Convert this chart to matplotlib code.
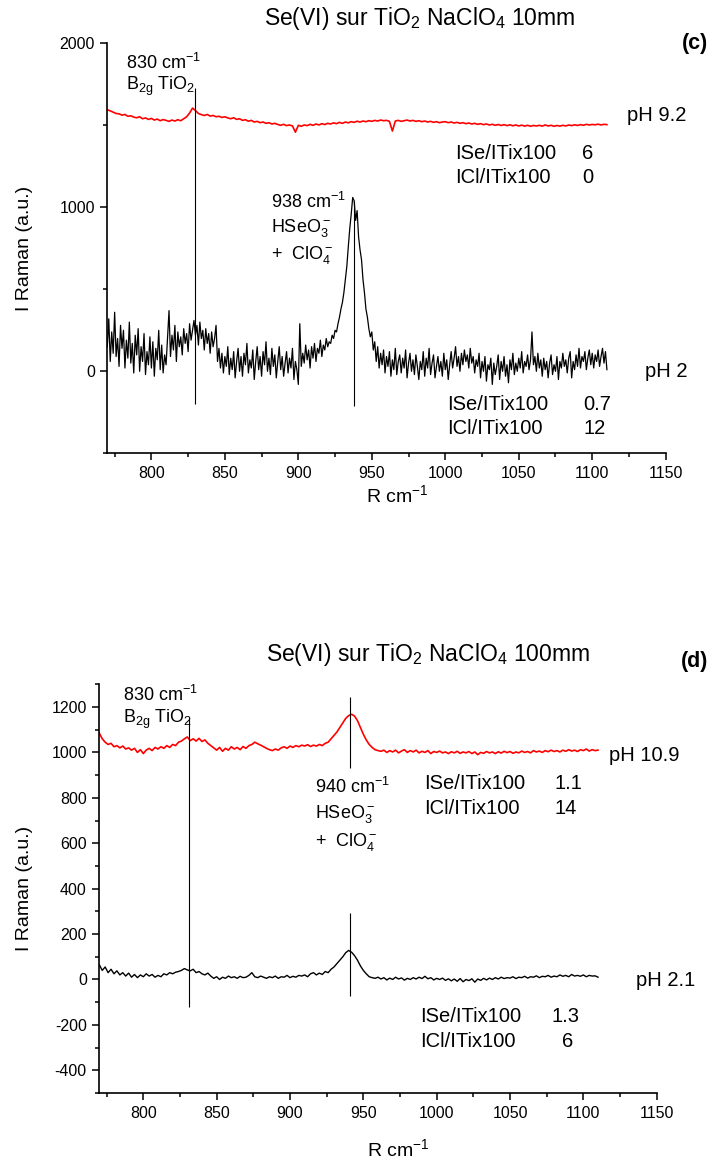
import numpy as np
import matplotlib
matplotlib.use("Agg")
import matplotlib.pyplot as plt
from matplotlib.ticker import MultipleLocator

plt.rcParams['font.family'] = ['Liberation Sans', 'DejaVu Sans']
plt.rcParams['mathtext.fontset'] = 'custom'
plt.rcParams['mathtext.rm'] = 'Liberation Sans'
plt.rcParams['mathtext.it'] = 'Liberation Sans'
plt.rcParams['mathtext.default'] = 'regular'
plt.rcParams['axes.unicode_minus'] = False

# ---------------- data (c) : NaClO4 10 mM ----------------
c_range = (770, 1110)
# pH 2, 1 cm-1 steps
c_ph2 = [150, 320, 60, 240, 110, 360, 90, 200, 30, 280,
         140, 250, 20, 190, 80, 300, 50, 170, -10, 220,
         100, 260, 0, 150, 60, 230, -20, 120, 40, 210,
         20, 180, -30, 140, 70, 250, 10, 160, -10, 100,
         40, 200, 370, 90, 220, 130, 280, 60, 240, 150,
         210, 100, 260, 170, 230, 120, 290, 190, 250, 310,
         220, 280, 160, 300, 200, 250, 130, 260, 170, 230,
         110, 240, 150, 200, 280, 60, 140, 20, 110, -10,
         90, 30, 150, -20, 80, 10, 120, -40, 60, 140,
         0, 90, -30, 110, 40, 170, -10, 70, 20, 130,
         -50, 60, 150, 10, 90, -30, 120, 40, 180, 0,
         80, -20, 140, 30, 100, -40, 60, 150, 10, 90,
         -30, 50, 120, -10, 80, 20, 140, -50, 60, 10,
         -80, 290, 30, 110, 50, 160, 70, 130, 20, 150,
         80, 170, 60, 140, 110, 190, 90, 160, 130, 200,
         150, 180, 170, 220, 200, 250, 240, 290, 330, 380,
         420, 480, 560, 640, 760, 870, 960, 1060, 1040, 920,
         980, 820, 740, 680, 560, 480, 380, 330, 260, 210,
         240, 130, 180, 60, 150, 20, 110, 40, 130, -10,
         90, 30, 120, -30, 70, 10, 140, -20, 60, 100,
         -10, 80, 20, 130, -40, 50, 110, 0, 70, -20,
         100, 30, -50, 60, 10, 120, -30, 80, 20, 140,
         -20, 50, 100, -40, 30, 90, 0, 60, -30, 110,
         10, 70, -50, 40, 120, 20, 80, 150, 30, 90,
         0, 110, 40, 130, 60, 100, 20, 140, 50, 90,
         -10, 70, 30, 110, -40, 60, 0, 90, -60, 40,
         10, 80, -80, 50, -20, 30, 100, -50, 60, 0,
         90, -30, 40, -70, 70, 10, 110, -20, 50, 0,
         80, 20, 120, -10, 60, 30, 100, 10, 70, 240,
         40, 90, 0, 110, 20, 70, -30, 80, 10, 60,
         -40, 50, 100, -20, 40, 0, 90, -50, 60, 20,
         110, 30, 70, -10, 80, 120, -40, 60, 10, 100,
         30, 140, 20, 90, 60, 120, 10, 80, 130, 40,
         110, 20, 100, 60, 130, 30, 90, 140, 50, 120, 10]
# pH 9.2, 2 cm-1 steps
c_ph92 = [1595, 1588, 1580, 1572, 1570, 1562, 1566, 1555, 1558, 1550, 1546, 1552, 1540, 1545, 1536, 1542, 1532, 1538, 1528, 1535,
          1530, 1524, 1532, 1526, 1534, 1528, 1540, 1552, 1575, 1605, 1590, 1572, 1565, 1560, 1566, 1556, 1560, 1552, 1555, 1548,
          1552, 1545, 1540, 1546, 1536, 1540, 1530, 1534, 1525, 1530, 1520, 1524, 1516, 1520, 1512, 1516, 1508, 1512, 1505, 1500,
          1506, 1498, 1502, 1496, 1458, 1500, 1494, 1502, 1498, 1506, 1500, 1508, 1502, 1510, 1505, 1512, 1508, 1515, 1510, 1518,
          1512, 1520, 1515, 1522, 1518, 1525, 1520, 1526, 1522, 1528, 1524, 1530, 1526, 1532, 1528, 1530, 1524, 1465, 1526, 1530,
          1524, 1528, 1532, 1526, 1530, 1524, 1528, 1522, 1526, 1520, 1524, 1518, 1522, 1516, 1520, 1522, 1516, 1520, 1514, 1518,
          1512, 1516, 1510, 1514, 1508, 1512, 1506, 1510, 1504, 1508, 1502, 1506, 1500, 1505, 1499, 1504, 1498, 1503, 1497, 1502,
          1496, 1501, 1495, 1500, 1494, 1499, 1496, 1500, 1495, 1502, 1496, 1500, 1494, 1499, 1495, 1500, 1496, 1502, 1498, 1503,
          1499, 1504, 1500, 1506, 1502, 1505, 1503, 1507, 1502, 1506, 1504]
c_lines = [830, 938]
c_line_low = [-200, -210]
c_line_high = [1730, 1040]

# ---------------- data (d) : NaClO4 100 mM ----------------
d_range = (770, 1110)
d_ph21 = [65, 40, 55, 30, 45, 25, 38, 20, 30, 15, 28, 10, 22, 8, 20, 12, 25, 15, 22, 10,
          18, 12, 25, 20, 30, 25, 32, 35, 40, 48, 42, 38, 45, 30, 35, 25, 20, 28, 15, 5,
          12, 0, 10, 5, 15, 8, 12, 5, 14, 8, 10, 18, 30, 12, 8, 15, 10, 5, 12, 8,
          15, 5, 12, 10, 18, 8, 14, 10, 18, 15, 20, 12, 25, 30, 20, 28, 22, 35, 30, 45,
          55, 70, 85, 100, 118, 128, 120, 105, 85, 60, 40, 25, 12, 8, 5, 10, 2, 8, -2, 6,
          0, 10, 2, 7, -3, 5, 0, 8, 2, 10, 4, 14, 3, 8, -2, 5, 0, 6, -4, 3,
          -6, 2, -8, 4, -10, 0, -5, 3, -12, 2, -4, 5, -2, 6, 0, 8, 2, 10, 4, 8,
          6, 12, 4, 10, 8, 14, 6, 12, 10, 16, 8, 14, 12, 18, 10, 15, 12, 20, 14, 18,
          12, 22, 15, 18, 14, 20, 12, 18, 15, 16, 10]
d_ph109 = [1085, 1060, 1045, 1035, 1040, 1025, 1030, 1020, 1028, 1015, 1020, 1010, 1018, 1000, 1012, 995, 1010, 1018, 1008, 1022,
           1015, 1025, 1018, 1030, 1022, 1035, 1030, 1045, 1050, 1060, 1068, 1052, 1060, 1050, 1062, 1048, 1055, 1040, 1030, 1020,
           1010, 1022, 1005, 1018, 1010, 1025, 1015, 1022, 1012, 1026, 1018, 1030, 1035, 1045, 1038, 1032, 1025, 1018, 1012, 1008,
           1015, 1010, 1020, 1025, 1018, 1028, 1022, 1030, 1025, 1032, 1028, 1034, 1026, 1032, 1028, 1035, 1030, 1040, 1045, 1060,
           1075, 1090, 1110, 1130, 1150, 1162, 1168, 1160, 1140, 1110, 1080, 1055, 1035, 1022, 1012, 1008, 1005, 1010, 1000, 1008,
           1002, 1010, 998, 1006, 1012, 1000, 1008, 1002, 1010, 998, 1005, 1000, 1008, 995, 1004, 1000, 1006, 998, 1002, 995,
           1003, 998, 1005, 996, 1002, 998, 1004, 995, 1002, 990, 1000, 996, 1004, 998, 1002, 995, 1003, 997, 1005, 999,
           1004, 996, 1002, 998, 1006, 1000, 1004, 998, 1008, 1002, 1006, 1000, 1008, 1003, 1010, 1004, 1008, 1002, 1010, 1005,
           1012, 1006, 1010, 1004, 1012, 1008, 1015, 1006, 1012, 1008, 1010]
d_lines = [831, 941, 941]
d_line_low = [-120, 930, -73]
d_line_high = [1150, 1243, 293]

W, H = 710, 1162
fig = plt.figure(figsize=(W / 100, H / 100), dpi=100)

TXT = 14.5
ANN = 13


def style_axes(ax, ymaj, ymin):
    ax.spines['top'].set_visible(False)
    ax.spines['right'].set_visible(False)
    ax.spines['left'].set_linewidth(1.2)
    ax.spines['bottom'].set_linewidth(1.2)
    ax.xaxis.set_major_locator(MultipleLocator(50))
    ax.xaxis.set_minor_locator(MultipleLocator(25))
    ax.yaxis.set_major_locator(MultipleLocator(ymaj))
    ax.yaxis.set_minor_locator(MultipleLocator(ymin))
    ax.tick_params(which='major', direction='out', length=5, width=1.1, labelsize=11.5, pad=4)
    ax.tick_params(which='minor', direction='out', length=3, width=1.1)


def fa(px_left, px_top, px_right, px_bottom):
    return [px_left / W, 1 - px_bottom / H, (px_right - px_left) / W, (px_bottom - px_top) / H]


def put(ax, x, y, s, size=TXT, **kw):
    ax.text(x, y, s, transform=ax.transAxes, fontsize=size, ha='left', va='center', **kw)


# ---------------- panel (c) ----------------
ax1 = fig.add_axes(fa(107.3, 43.3, 665.7, 453.3))
x2 = np.linspace(c_range[0], c_range[1], len(c_ph2))
x92 = np.linspace(c_range[0], c_range[1], len(c_ph92))
ax1.plot(x92, c_ph92, color='red', lw=1.2)
ax1.plot(x2, c_ph2, color='black', lw=0.9)
ax1.vlines(c_lines, c_line_low, c_line_high, color='black', lw=0.8)
ax1.set_xlim(770, 1150)
ax1.set_ylim(-500, 2000)
style_axes(ax1, 1000, 500)
ax1.set_yticks([0, 1000, 2000])
ax1.set_ylabel('I Raman (a.u.)', fontsize=14)
ax1.yaxis.set_label_coords(-0.133, 0.5)
ax1.set_xlabel('R cm$^{-1}$', fontsize=14)
ax1.xaxis.set_label_coords(0.52, -0.075)

put(ax1, 0.034, 0.952, '830 cm$^{-1}$', ANN)
put(ax1, 0.034, 0.895, 'B$_{2g}$ TiO$_2$', ANN)
put(ax1, 0.294, 0.613, '938 cm$^{-1}$', ANN)
put(ax1, 0.294, 0.55, 'HSeO$_3^-$', ANN)
put(ax1, 0.294, 0.484, '+  ClO$_4^-$', ANN)
put(ax1, 0.93, 0.825, 'pH 9.2')
put(ax1, 0.623, 0.731, 'ISe/ITix100')
put(ax1, 0.85, 0.731, '6')
put(ax1, 0.623, 0.673, 'ICl/ITix100')
put(ax1, 0.85, 0.673, '0')
put(ax1, 0.963, 0.2, 'pH 2')
put(ax1, 0.608, 0.12, 'ISe/ITix100')
put(ax1, 0.852, 0.12, '0.7')
put(ax1, 0.608, 0.06, 'ICl/ITix100')
put(ax1, 0.852, 0.06, '12')

fig.text(420 / W, 1 - 19 / H, 'Se(VI) sur TiO$_2$ NaClO$_4$ 10mm', fontsize=16.5, ha='center', va='center')
fig.text(708 / W, 1 - 43 / H, '(c)', fontsize=15.5, fontweight='bold', ha='right', va='center')

# ---------------- panel (d) ----------------
ax2 = fig.add_axes(fa(99.3, 684.3, 656.7, 1093))
xd21 = np.linspace(d_range[0], d_range[1], len(d_ph21))
xd109 = np.linspace(d_range[0], d_range[1], len(d_ph109))
ax2.plot(xd109, d_ph109, color='red', lw=1.2)
ax2.plot(xd21, d_ph21, color='black', lw=1.0)
ax2.vlines(d_lines, d_line_low, d_line_high, color='black', lw=0.8)
ax2.set_xlim(770, 1150)
ax2.set_ylim(-500, 1300)
style_axes(ax2, 200, 100)
ax2.set_yticks(np.arange(-400, 1201, 200))
ax2.set_ylabel('I Raman (a.u.)', fontsize=14)
ax2.yaxis.set_label_coords(-0.119, 0.5)
ax2.set_xlabel('R cm$^{-1}$', fontsize=14)
ax2.xaxis.set_label_coords(0.536, -0.11)

put(ax2, 0.043, 0.974, '830 cm$^{-1}$', ANN)
put(ax2, 0.043, 0.915, 'B$_{2g}$ TiO$_2$', ANN)
put(ax2, 0.387, 0.749, '940 cm$^{-1}$', ANN)
put(ax2, 0.387, 0.683, 'HSeO$_3^-$', ANN)
put(ax2, 0.387, 0.614, '+  ClO$_4^-$', ANN)
put(ax2, 0.915, 0.827, 'pH 10.9')
put(ax2, 0.5825, 0.7585, 'ISe/ITix100')
put(ax2, 0.816, 0.7585, '1.1')
put(ax2, 0.5825, 0.697, 'ICl/ITix100')
put(ax2, 0.816, 0.697, '14')
put(ax2, 0.963, 0.276, 'pH 2.1')
put(ax2, 0.575, 0.188, 'ISe/ITix100')
put(ax2, 0.812, 0.188, '1.3')
put(ax2, 0.575, 0.127, 'ICl/ITix100')
put(ax2, 0.83, 0.127, '6')

fig.text(428 / W, 1 - 654 / H, 'Se(VI) sur TiO$_2$ NaClO$_4$ 100mm', fontsize=16.5, ha='center', va='center')
fig.text(708 / W, 1 - 662 / H, '(d)', fontsize=15.5, fontweight='bold', ha='right', va='center')

fig.savefig('out.png', dpi=100)
